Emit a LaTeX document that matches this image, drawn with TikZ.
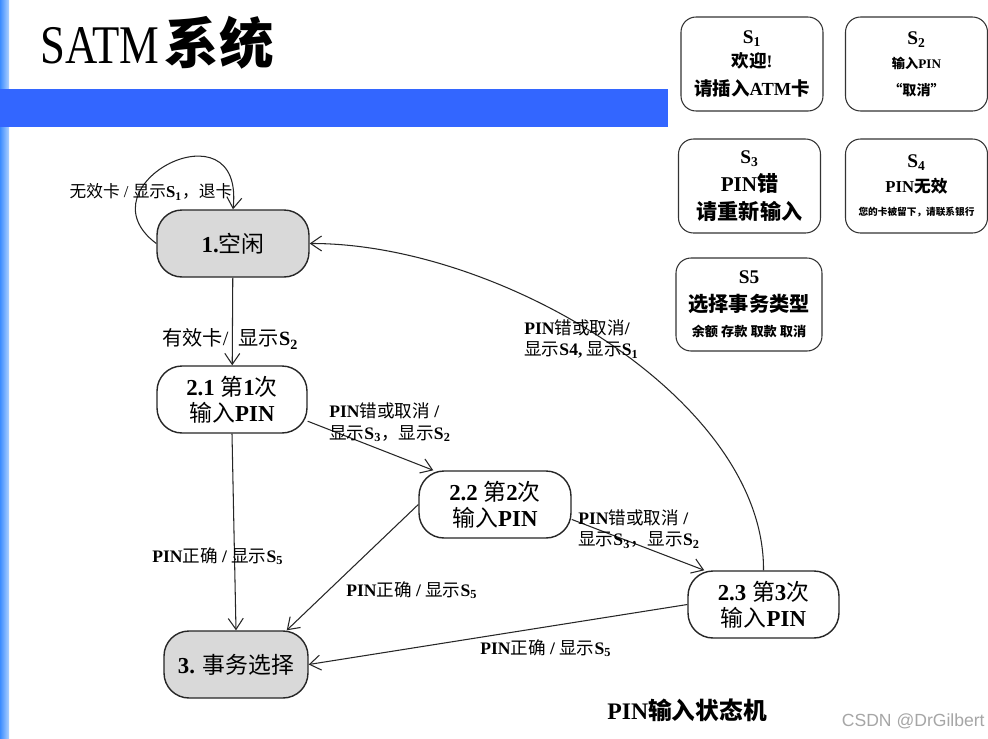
\documentclass[tikz,border=0pt]{standalone}
\usepackage{fontspec}
\setmainfont{Liberation Serif}
\newfontfamily\zhfont{Noto Sans CJK SC}
\newfontfamily\wmfont{Liberation Sans}
\usetikzlibrary{arrows.meta}
\newcommand\zh[1]{{\zhfont\mdseries #1}}
\newcommand\zhb[1]{{\zhfont\bfseries #1}}
\definecolor{barblue}{RGB}{51,102,255}
\definecolor{stripdark}{RGB}{60,140,255}
\definecolor{striplight}{RGB}{175,210,255}
\definecolor{stategrey}{RGB}{217,217,217}
\tikzset{
  state/.style={draw=black!85, line width=0.8pt, rounded corners=0.5cm, minimum width=3.04cm,
    minimum height=1.34cm, align=center, inner sep=0pt, font=\bfseries\fontsize{13}{15}\selectfont},
  greystate/.style={state, fill=stategrey},
  sbox/.style={draw=black!80, line width=0.6pt, rounded corners=0.3cm, minimum width=2.84cm,
    minimum height=1.88cm, align=center, inner sep=0pt, font=\bfseries\fontsize{11}{13}\selectfont},
  edge/.style={draw=black!85, line width=0.6pt, -{Straight Barb[length=2.2mm,width=3mm]}},
  lbl/.style={inner sep=0pt, align=left, font=\bfseries\fontsize{10}{12}\selectfont},
}

\begin{document}
\begin{tikzpicture}[x=0.02cm, y=-0.02cm]
  %%%%% START %%%%%
  \useasboundingbox[fill=white] (0,0) rectangle (988,738);

  % page decoration
  \shade[left color=stripdark, right color=striplight] (0,0) rectangle (9,738);
  \fill[barblue] (0,89) rectangle (668,127);
  \node[anchor=base west, inner sep=0pt] (title) at (40,63)
    {\fontsize{31}{36}\selectfont\scalebox{0.82}[1]{SATM}\hspace{3pt}\zhb{系统}};

  % output messages
  \node[sbox] (s1) at (752,64) {S\textsubscript{1}\\[1pt]
    {\fontsize{10}{12}\selectfont\zhb{欢迎}!}\\[3pt]
    {\fontsize{10.5}{12}\selectfont\zhb{请插入}ATM\zhb{卡}}};
  \node[sbox] (s2) at (916.5,64) {S\textsubscript{2}\\[1pt]
    {\fontsize{7.5}{9}\selectfont\zhb{输入}PIN}\\[2pt]
    {\fontsize{8}{9}\selectfont\zhb{“取消”}}};
  \node[sbox] (s3) at (749.5,186) {S\textsubscript{3}\\[3pt]
    {\fontsize{12}{14}\selectfont PIN\zhb{错}}\\[3pt]
    {\fontsize{12}{14}\selectfont\zhb{请重新输入}}};
  \node[sbox] (s4) at (916.5,186) {S\textsubscript{4}\\[1pt]
    {\fontsize{9.5}{11}\selectfont PIN\zhb{无效}}\\[0pt]
    {\fontsize{5.5}{7}\selectfont\zhb{您的卡被留下，请联系银行}}};
  \node[sbox, minimum width=2.92cm, minimum height=1.86cm] (s5) at (749,304.5) {S5\\[3pt]
    {\fontsize{11.5}{13}\selectfont\zhb{选择事务类型}}\\[1pt]
    {\fontsize{7.5}{9}\selectfont\zhb{余额 存款 取款 取消}}};

  % states
  \node[greystate] (idle) at (233,243.5) {1.\zh{空闲}};
  \node[state, minimum width=3.0cm] (in1) at (232,399.5) {2.1 \zh{第}1\zh{次}\\\zh{输入}PIN};
  \node[state] (in2) at (495,504.5) {2.2 \zh{第}2\zh{次}\\\zh{输入}PIN};
  \node[state, minimum width=3.02cm] (in3) at (763.5,604.5) {2.3 \zh{第}3\zh{次}\\\zh{输入}PIN};
  \node[greystate, minimum width=2.88cm] (sel) at (236,664.5) {3. \zh{事务选择}};

  % transitions
  \draw[edge] (idle.west) .. controls (78,185) and (245,100) .. (idle.north);
  \draw[edge] (idle) -- (in1);
  \draw[edge] (in1.-16) -- (in2.151);
  \draw[edge] (in2.-11) -- (in3.150);
  \draw[edge] (in3.north) .. controls (765,400) and (500,243) .. (idle.east);
  \draw[edge] (in1.south) -- (sel.north);
  \draw[edge] (in2.west) -- (sel.34);
  \draw[edge] (in3.west) -- (sel.east);

  % transition labels
  \node[lbl, font=\fontsize{9.5}{12}\selectfont] (tloop) at (151,192)
    {\zh{无效卡} / \zh{显示}\textbf{S\textsubscript{1}}\zh{，退卡}};
  \node[lbl, anchor=west, font=\fontsize{11.5}{14}\selectfont] (tvalid) at (162,339)
    {\zh{有效卡}/\ \ \zh{显示}\textbf{S\textsubscript{2}}};
  \node[lbl, anchor=west] (twrong1) at (329,422.5)
    {PIN\zh{错或取消} /\\\zh{显示}S\textsubscript{3}\zh{，显示}S\textsubscript{2}};
  \node[lbl, anchor=west] (twrong2) at (578,529)
    {PIN\zh{错或取消} /\\\zh{显示}S\textsubscript{3}\zh{，显示}S\textsubscript{2}};
  \node[lbl, anchor=west] (twrong3) at (524,339)
    {PIN\zh{错或取消}/\\\zh{显示}S4, \zh{显示}S\textsubscript{1}};
  \node[lbl, anchor=west] (tok1) at (152,556) {PIN\zh{正确} / \zh{显示}S\textsubscript{5}};
  \node[lbl, anchor=west] (tok2) at (346,590) {PIN\zh{正确} / \zh{显示}S\textsubscript{5}};
  \node[lbl, anchor=west] (tok3) at (480,648) {PIN\zh{正确} / \zh{显示}S\textsubscript{5}};

  % caption
  \node[inner sep=0pt] (caption) at (687,710)
    {\bfseries\fontsize{13.5}{16}\selectfont PIN\zhb{输入状态机}};
  \node[anchor=east, inner sep=0pt, text=black!35] (mark) at (985,721)
    {\wmfont\fontsize{10}{12}\selectfont CSDN @DrGilbert};
  %%%%% END %%%%%
\end{tikzpicture}
\end{document}
